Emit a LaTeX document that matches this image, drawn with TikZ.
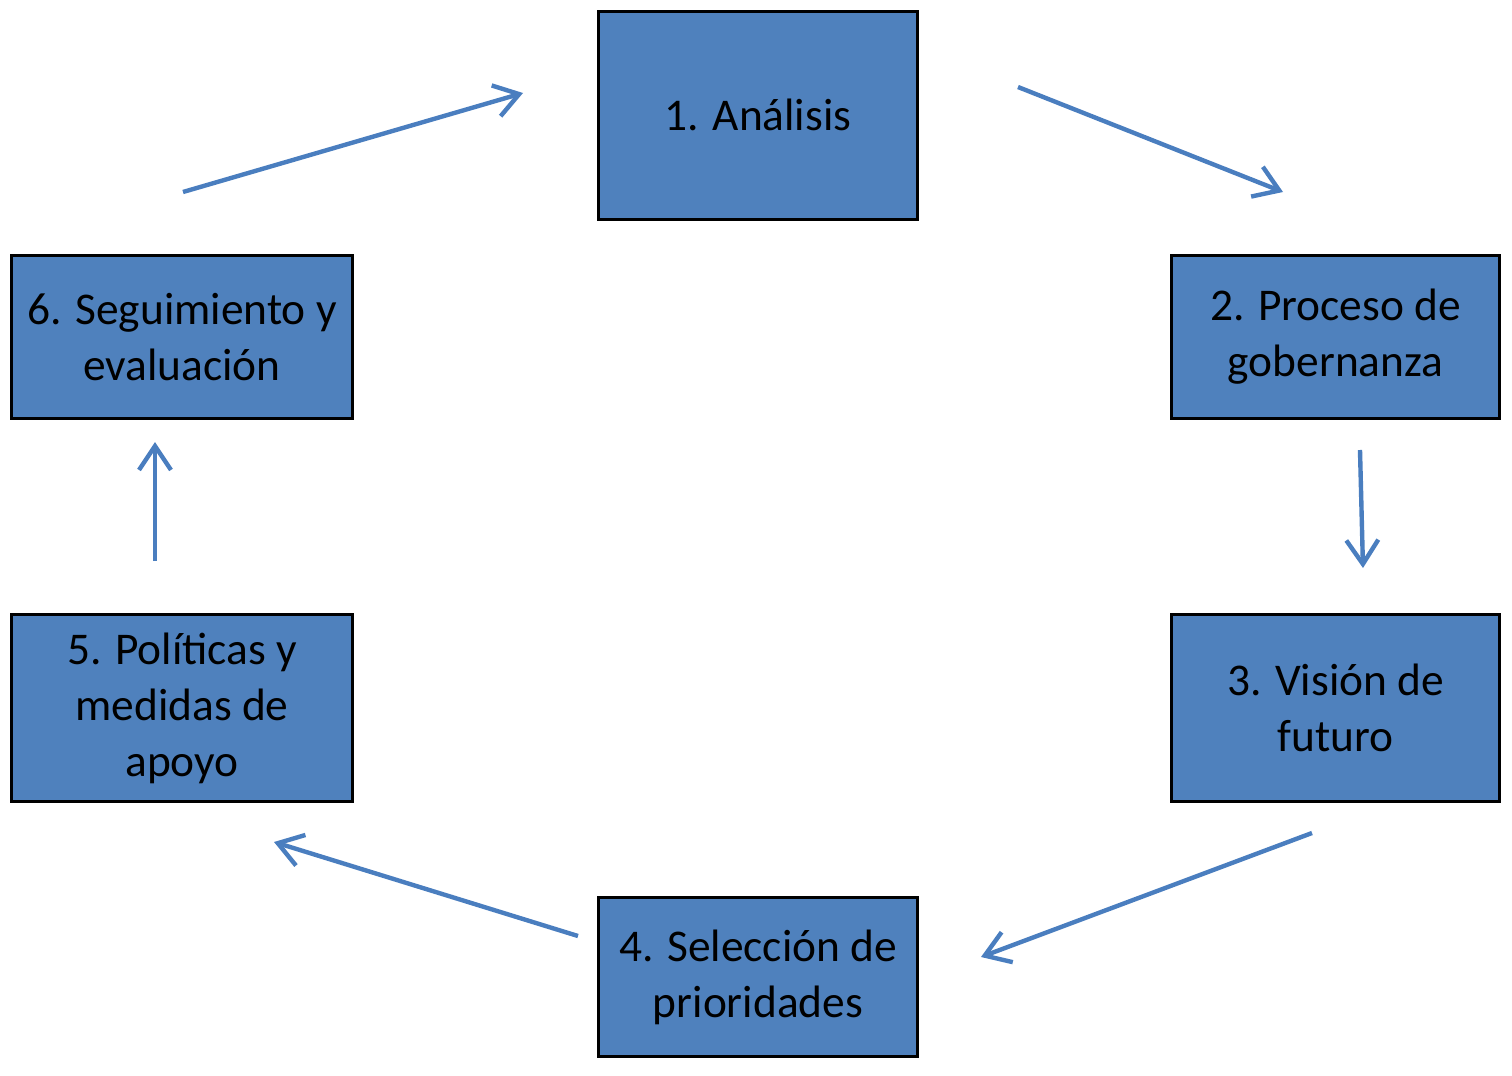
\documentclass[tikz,border=0pt]{standalone}
\usepackage{fontspec}
\setmainfont{Carlito}
\usepackage{tikz}
\usetikzlibrary{arrows.meta}
\definecolor{stagefill}{HTML}{4F81BD}
\definecolor{flow}{HTML}{4A7EBF}

\begin{document}
\begin{tikzpicture}[
  x=0.5pt,y=-0.5pt,
  stage/.style={draw=black,line width=1.5pt,fill=stagefill,inner sep=0pt,
    align=center,font=\fontsize{22.7}{28}\selectfont},
  arrow/.style={-{Straight Barb[length=12pt,width=16pt,line width=2.2pt]},
    line width=2.2pt,draw=flow}
]
\useasboundingbox (0,0) rectangle (1512,1076);
\node[stage,minimum width=159.5pt,minimum height=104pt] (analisis) at (758,115) {1. Análisis};
\node[stage,minimum width=164pt,minimum height=81.5pt] (gobernanza) at (1335.5,337) {2. Proceso de\\gobernanza};
\node[stage,minimum width=164pt,minimum height=93.5pt] (vision) at (1335.5,708) {3. Visión de\\futuro};
\node[stage,minimum width=159.5pt,minimum height=79.5pt] (prioridades) at (758,977) {4. Selección de\\prioridades};
\node[stage,minimum width=170.5pt,minimum height=93.5pt] (politicas) at (182,708) {5. Políticas y\\medidas de\\apoyo};
\node[stage,minimum width=170.5pt,minimum height=81.5pt] (seguimiento) at (182,337) {6. Seguimiento y\\evaluación};
% free-standing arrows between the stages
\coordinate (s61) at (183,192);
\coordinate (e61) at (523,93);
\coordinate (s12) at (1018,87);
\coordinate (e12) at (1283,192);
\coordinate (s23) at (1360,450);
\coordinate (e23) at (1363,568);
\coordinate (s34) at (1312,833);
\coordinate (e34) at (981,957);
\coordinate (s45) at (578,936);
\coordinate (e45) at (274,842);
\coordinate (s56) at (155,561);
\coordinate (e56) at (155,442);
\draw[arrow] (s61) -- (e61);
\draw[arrow] (s12) -- (e12);
\draw[arrow] (s23) -- (e23);
\draw[arrow] (s34) -- (e34);
\draw[arrow] (s45) -- (e45);
\draw[arrow] (s56) -- (e56);
\end{tikzpicture}
\end{document}
